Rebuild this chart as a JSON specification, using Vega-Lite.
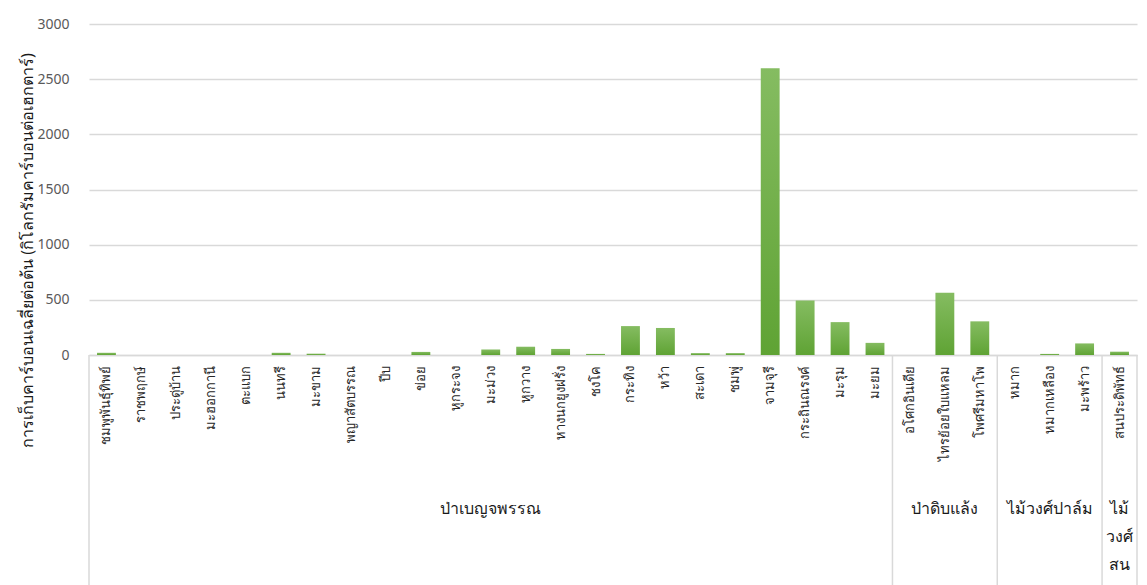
{
  "$schema": "https://vega.github.io/schema/vega-lite/v6.json",
  "width": 1048,
  "height": 331,
  "autosize": {"type": "none"},
  "padding": {"left": 89, "top": 24, "right": 10, "bottom": 230},
  "background": "white",
  "config": {"view": {"stroke": null}, "font": "Noto Sans"},
  "datasets": {
    "trees": [
      {"group": "ป่าเบญจพรรณ", "species": "ชมพูพันธุ์ทิพย์", "carbon": 20},
      {"group": "ป่าเบญจพรรณ", "species": "ราชพฤกษ์", "carbon": 0},
      {"group": "ป่าเบญจพรรณ", "species": "ประดู่บ้าน", "carbon": 0},
      {"group": "ป่าเบญจพรรณ", "species": "มะฮอกกานี", "carbon": 0},
      {"group": "ป่าเบญจพรรณ", "species": "ตะแบก", "carbon": 0},
      {"group": "ป่าเบญจพรรณ", "species": "นนทรี", "carbon": 20},
      {"group": "ป่าเบญจพรรณ", "species": "มะขาม", "carbon": 12},
      {"group": "ป่าเบญจพรรณ", "species": "พญาสัตบรรณ", "carbon": 0},
      {"group": "ป่าเบญจพรรณ", "species": "ปีบ", "carbon": 0},
      {"group": "ป่าเบญจพรรณ", "species": "ข่อย", "carbon": 28},
      {"group": "ป่าเบญจพรรณ", "species": "หูกระจง", "carbon": 0},
      {"group": "ป่าเบญจพรรณ", "species": "มะม่วง", "carbon": 50},
      {"group": "ป่าเบญจพรรณ", "species": "หูกวาง", "carbon": 75},
      {"group": "ป่าเบญจพรรณ", "species": "หางนกยูงฝรั่ง", "carbon": 55},
      {"group": "ป่าเบญจพรรณ", "species": "ชงโค", "carbon": 10},
      {"group": "ป่าเบญจพรรณ", "species": "กระทิง", "carbon": 262},
      {"group": "ป่าเบญจพรรณ", "species": "หว้า", "carbon": 245},
      {"group": "ป่าเบญจพรรณ", "species": "สะเดา", "carbon": 17},
      {"group": "ป่าเบญจพรรณ", "species": "ชมพู่", "carbon": 17},
      {"group": "ป่าเบญจพรรณ", "species": "จามจุรี", "carbon": 2600},
      {"group": "ป่าเบญจพรรณ", "species": "กระถินณรงค์", "carbon": 495},
      {"group": "ป่าเบญจพรรณ", "species": "มะรุม", "carbon": 298},
      {"group": "ป่าเบญจพรรณ", "species": "มะยม", "carbon": 110},
      {"group": "ป่าดิบแล้ง", "species": "อโศกอินเดีย", "carbon": 0},
      {"group": "ป่าดิบแล้ง", "species": "ไทรย้อยใบแหลม", "carbon": 565},
      {"group": "ป่าดิบแล้ง", "species": "โพศรีมหาโพ", "carbon": 305},
      {"group": "ไม้วงศ์ปาล์ม", "species": "หมาก", "carbon": 0},
      {"group": "ไม้วงศ์ปาล์ม", "species": "หมากเหลือง", "carbon": 10},
      {"group": "ไม้วงศ์ปาล์ม", "species": "มะพร้าว", "carbon": 105},
      {"group": "ไม้วงศ์สน", "species": "สนประดิพัทธ์", "carbon": 30}
    ],
    "groups": [
      {"group": "ป่าเบญจพรรณ", "label": "ป่าเบญจพรรณ", "first": "ชมพูพันธุ์ทิพย์", "mid": "มะม่วง", "last": "มะยม"},
      {"group": "ป่าดิบแล้ง", "label": "ป่าดิบแล้ง", "first": "อโศกอินเดีย", "mid": "ไทรย้อยใบแหลม", "last": "โพศรีมหาโพ"},
      {"group": "ไม้วงศ์ปาล์ม", "label": "ไม้วงศ์ปาล์ม", "first": "หมาก", "mid": "หมากเหลือง", "last": "มะพร้าว"},
      {"group": "ไม้วงศ์สน", "label": "ไม้\nวงศ์\nสน", "first": "สนประดิพัทธ์", "mid": "สนประดิพัทธ์", "last": "สนประดิพัทธ์"}
    ]
  },
  "layer": [
    {
      "data": {"name": "trees"},
      "mark": {
        "type": "bar",
        "width": {"band": 0.54},
        "color": {
          "gradient": "linear",
          "x1": 0, "y1": 0, "x2": 0, "y2": 1,
          "stops": [
            {"offset": 0, "color": "#85bc61"},
            {"offset": 1, "color": "#5fa334"}
          ]
        }
      },
      "encoding": {
        "x": {
          "field": "species",
          "type": "nominal",
          "sort": null,
          "scale": {
            "paddingInner": 0,
            "paddingOuter": 0,
            "domain": ["ชมพูพันธุ์ทิพย์", "ราชพฤกษ์", "ประดู่บ้าน", "มะฮอกกานี", "ตะแบก", "นนทรี", "มะขาม", "พญาสัตบรรณ", "ปีบ", "ข่อย", "หูกระจง", "มะม่วง", "หูกวาง", "หางนกยูงฝรั่ง", "ชงโค", "กระทิง", "หว้า", "สะเดา", "ชมพู่", "จามจุรี", "กระถินณรงค์", "มะรุม", "มะยม", "อโศกอินเดีย", "ไทรย้อยใบแหลม", "โพศรีมหาโพ", "หมาก", "หมากเหลือง", "มะพร้าว", "สนประดิพัทธ์"]
          },
          "axis": {
            "title": null,
            "labelAngle": -90,
            "labelPadding": 10,
            "labelFontSize": 13,
            "labelColor": "#262626",
            "labelLimit": 300,
            "ticks": false,
            "domainColor": "#d9d9d9",
            "domainWidth": 1.5,
            "grid": false
          }
        },
        "y": {
          "field": "carbon",
          "type": "quantitative",
          "scale": {"domain": [0, 3000], "nice": false},
          "axis": {
            "title": "การเก็บคาร์บอนเฉลี่ยต่อต้น (กิโลกรัมคาร์บอนต่อเฮกตาร์)",
            "titleFontSize": 16,
            "titleFontWeight": "normal",
            "titleColor": "#1a1a1a",
            "titleX": -62,
            "titleY": 226,
            "titleAlign": "center",
            "titleBaseline": "middle",
            "titleAngle": -90,
            "values": [0, 500, 1000, 1500, 2000, 2500, 3000],
            "format": "d",
            "labelFontSize": 14,
            "labelColor": "#595959",
            "labelPadding": 20,
            "ticks": false,
            "domain": false,
            "gridColor": "#d9d9d9",
            "gridWidth": 1.5
          }
        }
      }
    },
    {
      "data": {"name": "groups"},
      "mark": {"type": "rule", "color": "#d9d9d9", "strokeWidth": 1.5},
      "encoding": {
        "x": {"field": "first", "type": "nominal", "bandPosition": 0},
        "y": {"datum": 0},
        "y2": {"datum": -2300}
      }
    },
    {
      "data": {"name": "groups"},
      "transform": [{"filter": "datum.group === 'ไม้วงศ์สน'"}],
      "mark": {"type": "rule", "color": "#d9d9d9", "strokeWidth": 1.5},
      "encoding": {
        "x": {"field": "last", "type": "nominal", "bandPosition": 1},
        "y": {"datum": 0},
        "y2": {"datum": -2300}
      }
    },
    {
      "data": {"name": "groups"},
      "mark": {"type": "text", "lineBreak": "\n", "baseline": "top", "align": "center", "fontSize": 16, "lineHeight": 28, "color": "#1a1a1a"},
      "encoding": {
        "x": {"field": "mid", "type": "nominal"},
        "y": {"datum": -1320},
        "text": {"field": "label"}
      }
    }
  ]
}
